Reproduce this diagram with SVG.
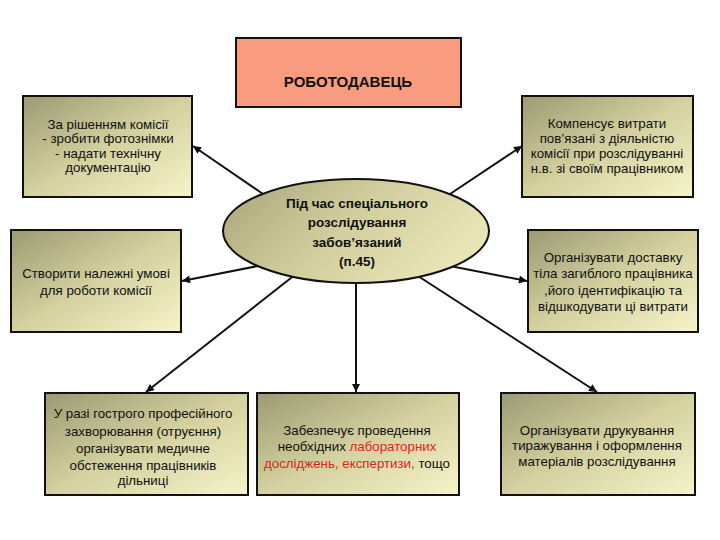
<svg xmlns="http://www.w3.org/2000/svg" width="720" height="540" viewBox="0 0 720 540">
<style>
.box{fill:url(#boxg);stroke:#111;stroke-width:2}
.t{font-family:"Liberation Sans","Noto Sans",Arial,sans-serif;font-size:13.3px;fill:#111;text-anchor:middle}
.b{font-family:"Liberation Sans","Noto Sans",Arial,sans-serif;font-weight:bold;fill:#111;text-anchor:middle}
.red{fill:#e0231c}
.conn line{stroke:#111;stroke-width:2;marker-end:url(#arr)}
</style>
<defs>
<linearGradient id="boxg" x1="0" y1="0" x2="1" y2="1">
<stop offset="0" stop-color="#9c9a74"/>
<stop offset="0.5" stop-color="#d4d09f"/>
<stop offset="1" stop-color="#f6f4ca"/>
</linearGradient>
<linearGradient id="ellg" x1="0" y1="0" x2="1" y2="0.4">
<stop offset="0" stop-color="#a6a37a"/>
<stop offset="0.5" stop-color="#cfcb9b"/>
<stop offset="1" stop-color="#e8e4b6"/>
</linearGradient>
<marker id="arr" viewBox="0 0 10 10" refX="10" refY="5" markerWidth="10" markerHeight="8" markerUnits="userSpaceOnUse" orient="auto">
<path d="M0,0 L10,5 L0,10 z" fill="#111"/>
</marker>
</defs>
<rect width="720" height="540" fill="#fff"/>

<g class="conn" id="connectors">
<line x1="263" y1="194" x2="193" y2="146"/>
<line x1="450" y1="194" x2="522" y2="146"/>
<line x1="263" y1="265" x2="182" y2="281"/>
<line x1="450" y1="266" x2="527" y2="281"/>
<line x1="296" y1="274" x2="146" y2="392"/>
<line x1="356" y1="283" x2="356" y2="392"/>
<line x1="418" y1="276" x2="597" y2="392"/>
</g>

<g id="employer">
<rect x="236" y="38" width="225" height="69" fill="#f99b7f" stroke="#111" stroke-width="2"/>
<text class="b" x="348" y="87" font-size="15">РОБОТОДАВЕЦЬ</text>
</g>

<g id="center">
<ellipse cx="356" cy="231" rx="133" ry="52" fill="url(#ellg)" stroke="#111" stroke-width="2"/>
<text class="b" font-size="13.5"><tspan x="357" y="208">Під час спеціального</tspan><tspan x="357" y="227">розслідування</tspan><tspan x="357" y="247">забов’язаний</tspan><tspan x="357" y="266">(п.45)</tspan></text>
</g>

<g id="n1">
<rect class="box" x="23" y="96" width="169" height="101"/>
<text class="t"><tspan x="108" y="129">За рішенням комісії</tspan><tspan x="108" y="143">- зробити фотознімки</tspan><tspan x="108" y="158">- надати технічну</tspan><tspan x="108" y="172">документацію</tspan></text>
</g>

<g id="n2">
<rect class="box" x="522" y="96" width="171" height="101"/>
<text class="t"><tspan x="607" y="128">Компенсує витрати</tspan><tspan x="607" y="143">пов’язані з діяльністю</tspan><tspan x="607" y="158">комісії при розслідуванні</tspan><tspan x="607" y="173">н.в. зі своїм працівником</tspan></text>
</g>

<g id="n3">
<rect class="box" x="11" y="230" width="170" height="102"/>
<text class="t"><tspan x="96" y="278">Створити належні умові</tspan><tspan x="96" y="295">для роботи комісії</tspan></text>
</g>

<g id="n4">
<rect class="box" x="528" y="230" width="170" height="102"/>
<text class="t"><tspan x="613" y="262">Організувати доставку</tspan><tspan x="613" y="278">тіла загиблого працівника</tspan><tspan x="613" y="295">,його ідентифікацію та</tspan><tspan x="613" y="311">відшкодувати ці витрати</tspan></text>
</g>

<g id="n5">
<rect class="box" x="45" y="393" width="203" height="102"/>
<text class="t"><tspan x="143" y="418">У разі гострого професійного</tspan><tspan x="143" y="436">захворювання (отруєння)</tspan><tspan x="143" y="453">організувати медичне</tspan><tspan x="143" y="470">обстеження працівників</tspan><tspan x="143" y="485">дільниці</tspan></text>
</g>

<g id="n6">
<rect class="box" x="257" y="393" width="202" height="102"/>
<text class="t"><tspan x="357" y="435">Забезпечує проведення</tspan><tspan x="357" y="451">необхідних <tspan class="red">лабораторних</tspan></tspan><tspan x="357" y="468"><tspan class="red">досліджень, експертизи,</tspan> тощо</tspan></text>
</g>

<g id="n7">
<rect class="box" x="501" y="393" width="194" height="102"/>
<text class="t"><tspan x="597" y="435">Організувати друкування</tspan><tspan x="597" y="450">тиражування і оформлення</tspan><tspan x="597" y="466">матеріалів розслідування</tspan></text>
</g>
</svg>
